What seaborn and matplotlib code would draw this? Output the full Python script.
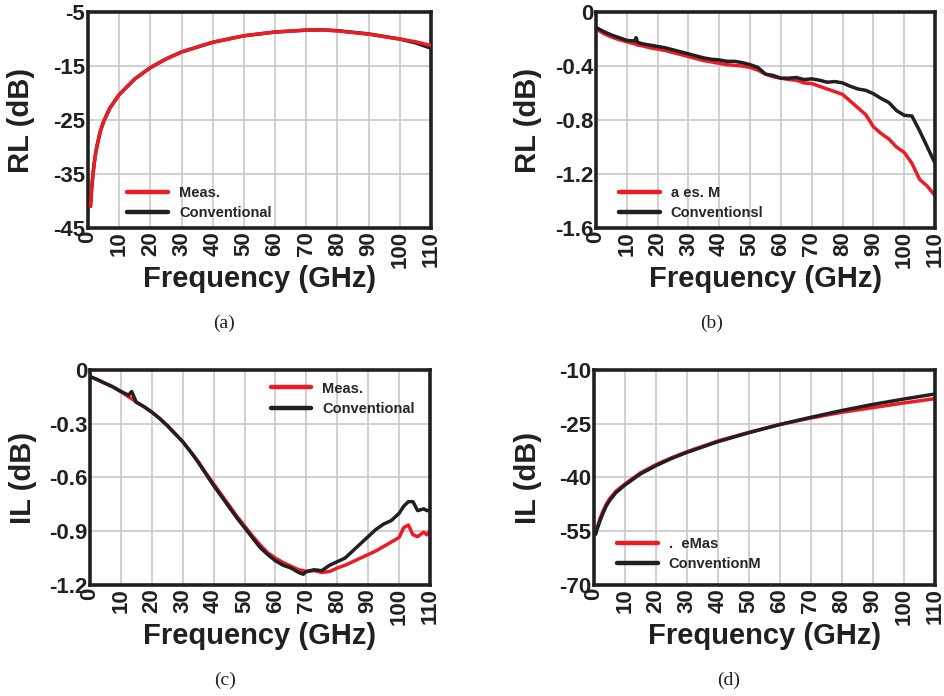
import matplotlib
matplotlib.use("Agg")
import matplotlib.pyplot as plt
import seaborn as sns
import pandas as pd
from matplotlib.lines import Line2D

# ---- (a) return loss ----
a_freq = [0.8, 1.2, 1.6, 2, 2.5, 3, 4, 5, 7, 10, 15, 20, 25, 30, 40, 50, 60, 70, 75, 80, 90, 100, 105, 110]
a_meas = [-41.0, -37.5, -35.0, -33.0, -31.0, -29.5, -27.0, -25.3, -22.8, -20.3, -17.4, -15.3, -13.7,
          -12.4, -10.6, -9.4, -8.7, -8.35, -8.3, -8.5, -9.1, -10.0, -10.5, -11.2]
a_conv = [-41.0, -37.5, -35.0, -33.0, -31.0, -29.5, -27.0, -25.3, -22.8, -20.3, -17.4, -15.3, -13.7,
          -12.4, -10.6, -9.4, -8.7, -8.35, -8.3, -8.45, -9.05, -10.0, -10.7, -11.7]

# ---- (b) ----
b_freq = [0.5, 2.5, 5, 7.5, 10, 12.5, 13, 13.5, 15, 17.5, 20, 22.5, 25, 27.5, 30, 32.5, 35, 37.5, 40,
          42.5, 45, 47.5, 50, 52.5, 55, 57.5, 60, 62.5, 65, 67.5, 70, 72.5, 75, 77.5, 80, 82.5, 85,
          87.5, 90, 92.5, 95, 97.5, 100, 102.5, 105, 107.5, 110]
b_meas = [-0.13, -0.16, -0.185, -0.205, -0.22, -0.235, -0.24, -0.245, -0.25, -0.265, -0.275, -0.285,
          -0.30, -0.315, -0.33, -0.345, -0.36, -0.37, -0.38, -0.39, -0.395, -0.40, -0.41, -0.43,
          -0.46, -0.48, -0.49, -0.50, -0.505, -0.525, -0.53, -0.55, -0.57, -0.59, -0.61, -0.66,
          -0.71, -0.76, -0.85, -0.90, -0.94, -1.00, -1.04, -1.12, -1.24, -1.29, -1.36]
b_conv = [-0.12, -0.145, -0.17, -0.19, -0.21, -0.215, -0.19, -0.225, -0.235, -0.245, -0.255, -0.265,
          -0.28, -0.295, -0.31, -0.325, -0.34, -0.35, -0.355, -0.365, -0.365, -0.375, -0.39, -0.41,
          -0.46, -0.47, -0.49, -0.49, -0.485, -0.50, -0.495, -0.505, -0.52, -0.515, -0.525, -0.55,
          -0.57, -0.58, -0.605, -0.64, -0.67, -0.73, -0.765, -0.77, -0.88, -1.00, -1.12]

# ---- (c) insertion loss ----
c_freq = [0.5, 2.5, 5, 7.5, 10, 12.5, 13.5, 15, 17.5, 20, 22.5, 25, 27.5, 30, 32.5, 35, 37.5, 40,
          42.5, 45, 47.5, 50, 52.5, 55, 57.5, 60, 62.5, 65, 67.5, 69, 70, 72.5, 75, 77.5, 80, 82.5,
          85, 87.5, 90, 92.5, 95, 97.5, 100, 101.5, 103, 104.5, 106, 108, 109, 110]
c_meas = [-0.04, -0.055, -0.075, -0.095, -0.12, -0.15, -0.16, -0.18, -0.205, -0.235, -0.27, -0.31,
          -0.355, -0.40, -0.455, -0.51, -0.575, -0.635, -0.695, -0.755, -0.815, -0.87, -0.925,
          -0.975, -1.02, -1.05, -1.075, -1.095, -1.115, -1.12, -1.125, -1.12, -1.13, -1.125,
          -1.105, -1.09, -1.07, -1.05, -1.03, -1.01, -0.985, -0.96, -0.935, -0.88, -0.865, -0.92,
          -0.93, -0.905, -0.92, -0.895]
c_conv = [-0.04, -0.055, -0.075, -0.095, -0.12, -0.14, -0.12, -0.18, -0.205, -0.235, -0.27, -0.31,
          -0.355, -0.40, -0.455, -0.515, -0.58, -0.645, -0.705, -0.765, -0.825, -0.88, -0.935,
          -0.99, -1.03, -1.065, -1.09, -1.105, -1.13, -1.14, -1.125, -1.115, -1.12, -1.09, -1.07,
          -1.05, -1.01, -0.97, -0.93, -0.89, -0.86, -0.84, -0.80, -0.76, -0.735, -0.735, -0.785,
          -0.775, -0.785, -0.78]

# ---- (d) ----
d_freq = [0.5, 1, 2, 3, 4, 5, 7, 10, 15, 20, 25, 30, 40, 50, 60, 70, 80, 90, 100, 110]
d_meas = [-55.6, -54.0, -51.3, -49.2, -47.4, -46.0, -43.9, -41.8, -38.7, -36.4, -34.5, -32.8,
          -29.8, -27.4, -25.2, -23.4, -21.8, -20.5, -19.2, -18.0]
d_conv = [-55.9, -54.5, -52.0, -49.8, -47.9, -46.5, -44.3, -42.1, -39.0, -36.7, -34.7, -33.0,
          -30.0, -27.5, -25.2, -23.2, -21.3, -19.6, -18.1, -16.7]

x_ticks = list(range(0, 111, 10))
a_yticks = [-45, -35, -25, -15, -5]
b_yticks = [-1.6, -1.2, -0.8, -0.4, 0]
b_yticklabels = ["-1.6", "-1.2", "-0.8", "-0.4", "0"]
c_yticks = [-1.2, -0.9, -0.6, -0.3, 0]
c_yticklabels = ["-1.2", "-0.9", "-0.6", "-0.3", "0"]
d_yticks = [-70, -55, -40, -25, -10]

panels = [
    dict(freq=a_freq, meas=a_meas, conv=a_conv, yticks=a_yticks, ylabels=[str(v) for v in a_yticks],
         ylabel="RL (dB)", caption="(a)", labels=("Meas.", "Conventional"), red_top=True,
         rect=[0.0932, 0.6724, 0.3633, 0.3103], legend_loc=(0.085, -0.01), ylab_x=-0.155,
         cap_xy=(224, 323)),
    dict(freq=b_freq, meas=b_meas, conv=b_conv, yticks=b_yticks, ylabels=b_yticklabels,
         ylabel="RL (dB)", caption="(b)", labels=("a es. M", "Conventionsl"), red_top=False,
         rect=[0.6314, 0.6724, 0.3591, 0.3103], legend_loc=(0.037, -0.01), ylab_x=-0.16,
         cap_xy=(712, 323)),
    dict(freq=c_freq, meas=c_meas, conv=c_conv, yticks=c_yticks, ylabels=c_yticklabels,
         ylabel="IL (dB)", caption="(c)", labels=("Meas.", "Conventional"), red_top=False,
         rect=[0.0953, 0.1595, 0.3602, 0.3089], legend_loc=(0.501, 0.74), ylab_x=-0.156,
         cap_xy=(225, 680)),
    dict(freq=d_freq, meas=d_meas, conv=d_conv, yticks=d_yticks, ylabels=[str(v) for v in d_yticks],
         ylabel="IL (dB)", caption="(d)", labels=(".  eMas", "ConventionM"), red_top=False,
         rect=[0.6292, 0.1595, 0.3612, 0.3089], legend_loc=(0.037, 0.018), ylab_x=-0.152,
         cap_xy=(729, 680)),
]

sns.set_theme(style="whitegrid")
plt.rcParams["font.family"] = ["Liberation Sans", "DejaVu Sans"]

RED = "#ec1c24"
BLACK = "#231f20"
W, H = 944, 696

fig = plt.figure(figsize=(W / 100, H / 100), dpi=100)
fig.patch.set_facecolor("white")

for p in panels:
    ax = fig.add_axes(p["rect"])
    ax.set_facecolor("white")
    df = pd.DataFrame({"f": p["freq"], "meas": p["meas"], "conv": p["conv"]})
    order = [("conv", BLACK, 2), ("meas", RED, 3)] if p["red_top"] else [("meas", RED, 2), ("conv", BLACK, 3)]
    for col, colr, z in order:
        sns.lineplot(data=df, x="f", y=col, ax=ax, color=colr, linewidth=2.5, zorder=z)
    ax.set_xlim(0, 110)
    ax.set_ylim(p["yticks"][0], p["yticks"][-1])
    ax.set_xticks(x_ticks)
    ax.set_xticklabels([str(t) for t in x_ticks], rotation=90, fontsize=16, fontweight="bold")
    ax.set_yticks(p["yticks"])
    ax.set_yticklabels(p["ylabels"], fontsize=16, fontweight="bold")
    ax.tick_params(axis="both", which="both", length=0, pad=2, colors="#231f20")
    ax.grid(True, color="#c8c8c8", linewidth=1.2)
    for s in ax.spines.values():
        s.set_visible(True)
        s.set_color("#231f20")
        s.set_linewidth(2.6)
    ax.set_xlabel("Frequency (GHz)", fontsize=21, fontweight="bold", color="#231f20")
    ax.xaxis.set_label_coords(0.5, -0.172)
    ax.set_ylabel(p["ylabel"], fontsize=21, fontweight="bold", color="#231f20")
    ax.yaxis.set_label_coords(p["ylab_x"], 0.5)
    handles = [Line2D([], [], color=RED, linewidth=3.2), Line2D([], [], color=BLACK, linewidth=3.2)]
    ax.legend(handles, list(p["labels"]), loc="lower left", bbox_to_anchor=p["legend_loc"],
              frameon=False, handlelength=2.8, prop={"weight": "bold", "size": 10.5},
              labelspacing=0.42, borderpad=0.2, handletextpad=0.75)
    cx, cy = p["cap_xy"]
    fig.text(cx / W, 1 - cy / H, p["caption"], ha="center", va="center",
             fontsize=14, family="Liberation Serif", color="#231f20")

fig.savefig("out.png", dpi=100, facecolor="white")
